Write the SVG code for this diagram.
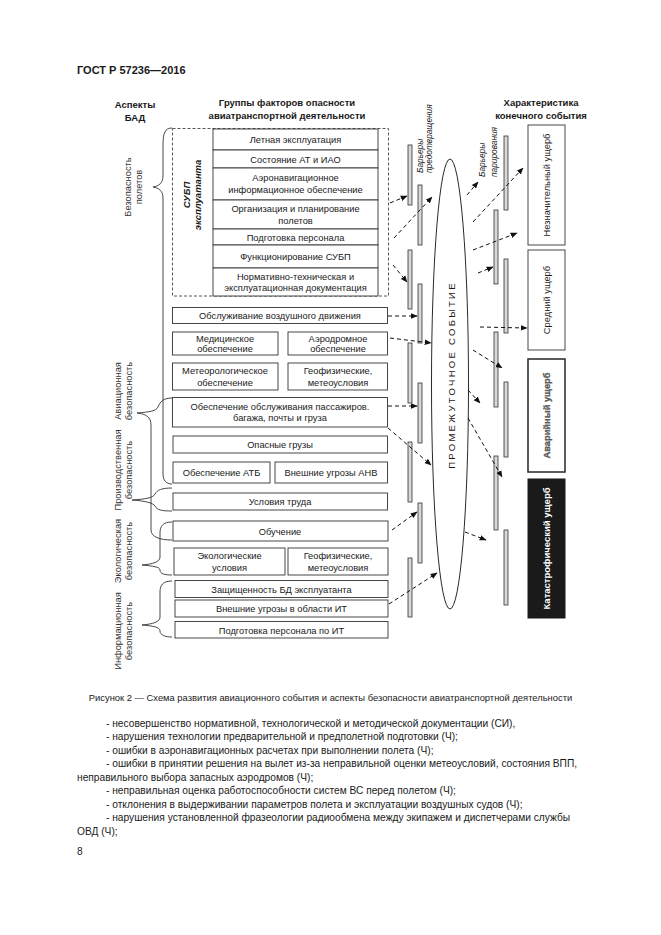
<svg xmlns="http://www.w3.org/2000/svg" width="661" height="935" viewBox="0 0 661 935">
<defs>
<marker id="ah" viewBox="0 0 10 10" refX="9" refY="5" markerWidth="7" markerHeight="7" orient="auto" markerUnits="userSpaceOnUse">
<path d="M0,1 L10,5 L0,9 Z" fill="#111"/>
</marker>
<style>
text{font-family:"Liberation Sans",Arial,sans-serif;fill:#1a1a1a}
.h{font-size:9.5px;font-weight:bold}
.b{font-size:9.3px}
.a{font-size:9.3px;fill:#333}
.bt{font-size:8.3px;font-style:italic}
.bx{fill:#fff;stroke:#333;stroke-width:0.9}
.bar{fill:#d8d8d8;stroke:#333;stroke-width:0.8}
.c{stroke:#111;stroke-width:1;stroke-dasharray:4 3;fill:none;marker-end:url(#ah)}
.br{fill:none;stroke:#333;stroke-width:0.9}
.t{font-size:10.2px}
</style>
</defs>
<rect width="661" height="935" fill="#fff"/>
<text x="77" y="74" style="font-size:11px;font-weight:bold">ГОСТ Р 57236—2016</text>

<g id="headers">
<text class="h" x="135" y="108" text-anchor="middle">Аспекты</text>
<text class="h" x="135" y="121" text-anchor="middle">БАД</text>
<text class="h" x="287" y="106" text-anchor="middle">Группы факторов опасности</text>
<text class="h" x="287" y="119" text-anchor="middle">авиатранспортной деятельности</text>
<text class="h" x="541" y="106" text-anchor="middle">Характеристика</text>
<text class="h" x="541" y="119" text-anchor="middle">конечного события</text>
</g>

<g id="aspects">
<path class="br" d="M172,128 C165,128 163,133 163,145 L163,176 C163,183 159,186 153,187 C159,188 163,191 163,198 L163,474 C163,480 166,484 172,484"/>
<text class="a" transform="translate(131,187) rotate(-90)" text-anchor="middle">Безопасность</text>
<text class="a" transform="translate(142,187) rotate(-90)" text-anchor="middle">полетов</text>
<path class="br" d="M172,398 C163,398 160,402 158,407 C156,411 150,412 137,413 C146,414 151,417 151,425 L151,530 C151,537 160,540 172,540"/>
<text class="a" transform="translate(121,391) rotate(-90)" text-anchor="middle">Авиационная</text>
<text class="a" transform="translate(132,391) rotate(-90)" text-anchor="middle">безопасность</text>
<path class="br" d="M172,488 C162,488 157,490 155,494 C153,498 146,499 132,500 C146,501 153,503 155,506 C157,510 162,511 172,511"/>
<text class="a" transform="translate(121,470) rotate(-90)" text-anchor="middle">Производственная</text>
<text class="a" transform="translate(132,470) rotate(-90)" text-anchor="middle">безопасность</text>
<path class="br" d="M172,522 C163,522 160,526 160,533 L160,557 C160,562 153,564 142,565 C153,566 160,567 160,570 C160,574 165,575 172,575"/>
<text class="a" transform="translate(121,551) rotate(-90)" text-anchor="middle">Экологическая</text>
<text class="a" transform="translate(132,551) rotate(-90)" text-anchor="middle">безопасность</text>
<path class="br" d="M172,581 C163,581 160,585 160,592 L160,617 C160,622 153,624 142,625 C153,626 160,627 160,631 C160,635 165,637 172,637"/>
<text class="a" transform="translate(121,631) rotate(-90)" text-anchor="middle">Информационная</text>
<text class="a" transform="translate(132,631) rotate(-90)" text-anchor="middle">безопасность</text>
</g>

<g id="subp">
<rect x="172.5" y="128.5" width="216" height="167.5" fill="none" stroke="#444" stroke-width="0.9" stroke-dasharray="3 2"/>
<text transform="translate(190,195) rotate(-90)" text-anchor="middle" style="font-size:9.5px;font-weight:bold;font-style:italic">СУБП</text>
<text transform="translate(201,195) rotate(-90)" text-anchor="middle" style="font-size:9.5px;font-weight:bold;font-style:italic">эксплуатанта</text>
</g>
<g id="n1"><rect class="bx" x="213" y="129" width="165" height="21"/><text class="b" x="295.5" y="143" text-anchor="middle">Летная эксплуатация</text></g>
<g id="n2"><rect class="bx" x="213" y="150" width="165" height="18"/><text class="b" x="295.5" y="162.5" text-anchor="middle">Состояние АТ и ИАО</text></g>
<g id="n3"><rect class="bx" x="213" y="168" width="165" height="32"/><text class="b" x="295.5" y="181" text-anchor="middle">Аэронавигационное</text><text class="b" x="295.5" y="193" text-anchor="middle">информационное обеспечение</text></g>
<g id="n4"><rect class="bx" x="213" y="200" width="165" height="29"/><text class="b" x="295.5" y="212" text-anchor="middle">Организация и планирование</text><text class="b" x="295.5" y="224" text-anchor="middle">полетов</text></g>
<g id="n5"><rect class="bx" x="213" y="229" width="165" height="16"/><text class="b" x="295.5" y="240.5" text-anchor="middle">Подготовка персонала</text></g>
<g id="n6"><rect class="bx" x="213" y="245" width="165" height="23"/><text class="b" x="295.5" y="260" text-anchor="middle">Функционирование СУБП</text></g>
<g id="n7"><rect class="bx" x="213" y="268" width="165" height="28"/><text class="b" x="295.5" y="279.5" text-anchor="middle">Нормативно-техническая и</text><text class="b" x="295.5" y="291" text-anchor="middle">эксплуатационная документация</text></g>

<g id="n8"><rect class="bx" x="172.5" y="307.5" width="215" height="16"/><text class="b" x="280" y="319" text-anchor="middle">Обслуживание воздушного движения</text></g>
<g id="n9"><rect class="bx" x="172.5" y="332" width="105.5" height="23"/><text class="b" x="225" y="341.5" text-anchor="middle">Медицинское</text><text class="b" x="225" y="352" text-anchor="middle">обеспечение</text></g>
<g id="n10"><rect class="bx" x="288" y="332" width="99.5" height="23"/><text class="b" x="338" y="341.5" text-anchor="middle">Аэродромное</text><text class="b" x="338" y="352" text-anchor="middle">обеспечение</text></g>
<g id="n11"><rect class="bx" x="172.5" y="363" width="105.5" height="27"/><text class="b" x="225" y="374" text-anchor="middle">Метеорологическое</text><text class="b" x="225" y="385.5" text-anchor="middle">обеспечение</text></g>
<g id="n12"><rect class="bx" x="288" y="363" width="99.5" height="27"/><text class="b" x="338" y="374" text-anchor="middle">Геофизические,</text><text class="b" x="338" y="385.5" text-anchor="middle">метеоусловия</text></g>
<g id="n13"><rect class="bx" x="172.5" y="397.5" width="215" height="29.5"/><text class="b" x="280" y="409.5" text-anchor="middle">Обеспечение обслуживания пассажиров.</text><text class="b" x="280" y="421" text-anchor="middle">багажа, почты и груза</text></g>
<g id="n14"><rect class="bx" x="173" y="436" width="214.5" height="17"/><text class="b" x="280" y="448" text-anchor="middle">Опасные грузы</text></g>
<g id="n15"><rect class="bx" x="173" y="462" width="97" height="21"/><text class="b" x="221.5" y="476" text-anchor="middle">Обеспечение АТБ</text></g>
<g id="n16"><rect class="bx" x="275" y="462" width="112.5" height="21"/><text class="b" x="331" y="476" text-anchor="middle">Внешние угрозы АНВ</text></g>
<g id="n17"><rect class="bx" x="173" y="493" width="214.5" height="17"/><text class="b" x="280" y="505" text-anchor="middle">Условия труда</text></g>
<g id="n18"><rect class="bx" x="173" y="521" width="215" height="20"/><text class="b" x="280" y="534.5" text-anchor="middle">Обучение</text></g>
<g id="n19"><rect class="bx" x="174" y="548" width="111" height="27"/><text class="b" x="229.5" y="559" text-anchor="middle">Экологические</text><text class="b" x="229.5" y="570.5" text-anchor="middle">условия</text></g>
<g id="n20"><rect class="bx" x="288" y="548" width="100" height="27"/><text class="b" x="338" y="559" text-anchor="middle">Геофизические,</text><text class="b" x="338" y="570.5" text-anchor="middle">метеоусловия</text></g>
<g id="n21"><rect class="bx" x="175" y="580.5" width="213" height="17"/><text class="b" x="281.5" y="592.5" text-anchor="middle">Защищенность БД эксплуатанта</text></g>
<g id="n22"><rect class="bx" x="175" y="600" width="213" height="17"/><text class="b" x="281.5" y="612" text-anchor="middle">Внешние угрозы в области ИТ</text></g>
<g id="n23"><rect class="bx" x="175" y="621.5" width="213" height="16.5"/><text class="b" x="281.5" y="633.5" text-anchor="middle">Подготовка персонала по ИТ</text></g>

<g id="barriers-prevention">
<rect class="bar" x="408" y="145" width="4" height="60"/>
<rect class="bar" x="408" y="250" width="4" height="59"/>
<rect class="bar" x="408" y="343" width="4" height="60"/>
<rect class="bar" x="408" y="442" width="4" height="60"/>
<rect class="bar" x="408" y="558" width="4" height="59"/>
<rect class="bar" x="418" y="185" width="4" height="60"/>
<rect class="bar" x="418" y="284" width="4" height="59"/>
<rect class="bar" x="418" y="383" width="4" height="60"/>
<rect class="bar" x="418" y="503" width="4" height="60"/>
<text class="bt" transform="translate(423,173) rotate(-90)">Барьеры</text>
<text class="bt" transform="translate(432,173) rotate(-90)">предотвращения</text>
</g>

<g id="event">
<ellipse cx="450" cy="384" rx="18.5" ry="225" fill="none" stroke="#111" stroke-width="0.9"/>
<text transform="translate(455,375) rotate(-90)" text-anchor="middle" style="font-size:9.5px;letter-spacing:2.3px">ПРОМЕЖУТОЧНОЕ СОБЫТИЕ</text>
</g>

<g id="barriers-response">
<rect class="bar" x="494" y="210" width="4" height="74"/>
<rect class="bar" x="494" y="332" width="4" height="75"/>
<rect class="bar" x="494" y="456" width="4" height="74"/>
<rect class="bar" x="504" y="136" width="4" height="74"/>
<rect class="bar" x="504" y="259" width="4" height="74"/>
<rect class="bar" x="504" y="382" width="4" height="75"/>
<rect class="bar" x="504" y="530" width="4" height="75"/>
<text class="bt" transform="translate(485,177) rotate(-90)">Барьеры</text>
<text class="bt" transform="translate(497,177) rotate(-90)">парирования</text>
</g>

<g id="o1"><rect class="bx" x="528" y="125" width="37" height="120"/><text class="b" transform="translate(550,185) rotate(-90)" text-anchor="middle">Незначительный ущерб</text></g>
<g id="o2"><rect class="bx" x="528" y="250" width="37" height="100"/><text class="b" transform="translate(550,300) rotate(-90)" text-anchor="middle">Средний ущерб</text></g>
<g id="o3"><rect x="528" y="359" width="37" height="113" fill="#fff" stroke="#333" stroke-width="1.6"/><text transform="translate(550,415.5) rotate(-90)" text-anchor="middle" style="font-size:9.3px;font-weight:bold;fill:#666;stroke:#333;stroke-width:0.25">Аварийный ущерб</text></g>
<g id="o4"><rect x="528" y="479" width="37" height="139" fill="#1a1a1a" stroke="#1a1a1a"/><text transform="translate(550,548.5) rotate(-90)" text-anchor="middle" style="font-size:9.5px;font-weight:bold;fill:#fff">Катастрофический ущерб</text></g>

<g id="connectors">
<path class="c" d="M390,203 L407,196"/>
<path class="c" d="M394,238 L432,197"/>
<path class="c" d="M393,265 L407,282"/>
<path class="c" d="M388,316 L417,316"/>
<path class="c" d="M390,338 L431,343"/>
<path class="c" d="M388,406 L417,406"/>
<path class="c" d="M388,428 L431,465"/>
<path class="c" d="M392,530 L417,512"/>
<path class="c" d="M389,604 L437,573"/>
<path class="c" d="M467,195 L478,182"/>
<path class="c" d="M473,222 L523,168"/>
<path class="c" d="M473,250 L517,233"/>
<path class="c" d="M478,273 L493,267"/>
<path class="c" d="M480,327 L527,328"/>
<path class="c" d="M473,350 L502,368"/>
<path class="c" d="M468,390 L480,403"/>
<path class="c" d="M468,418 L502,477"/>
<path class="c" d="M465,532 L486,540"/>
</g>

<g id="caption">
<text x="330.5" y="701" text-anchor="middle" style="font-size:9.4px">Рисунок 2 — Схема развития авиационного события и аспекты безопасности авиатранспортной деятельности</text>
<text class="t" x="106" y="726.5">- несовершенство нормативной, технологической и методической документации (СИ),</text>
<text class="t" x="106" y="740">- нарушения технологии предварительной и предполетной подготовки (Ч);</text>
<text class="t" x="106" y="753.5">- ошибки в аэронавигационных расчетах при выполнении полета (Ч);</text>
<text class="t" x="106" y="767">- ошибки в принятии решения на вылет из-за неправильной оценки метеоусловий, состояния ВПП,</text>
<text class="t" x="77" y="780.5">неправильного выбора запасных аэродромов (Ч);</text>
<text class="t" x="106" y="794">- неправильная оценка работоспособности систем ВС перед полетом (Ч);</text>
<text class="t" x="106" y="807.5">- отклонения в выдерживании параметров полета и эксплуатации воздушных судов (Ч);</text>
<text class="t" x="106" y="821">- нарушения установленной фразеологии радиообмена между экипажем и диспетчерами службы</text>
<text class="t" x="77" y="834.5">ОВД (Ч);</text>
<text class="t" x="77" y="855">8</text>
</g>
</svg>
